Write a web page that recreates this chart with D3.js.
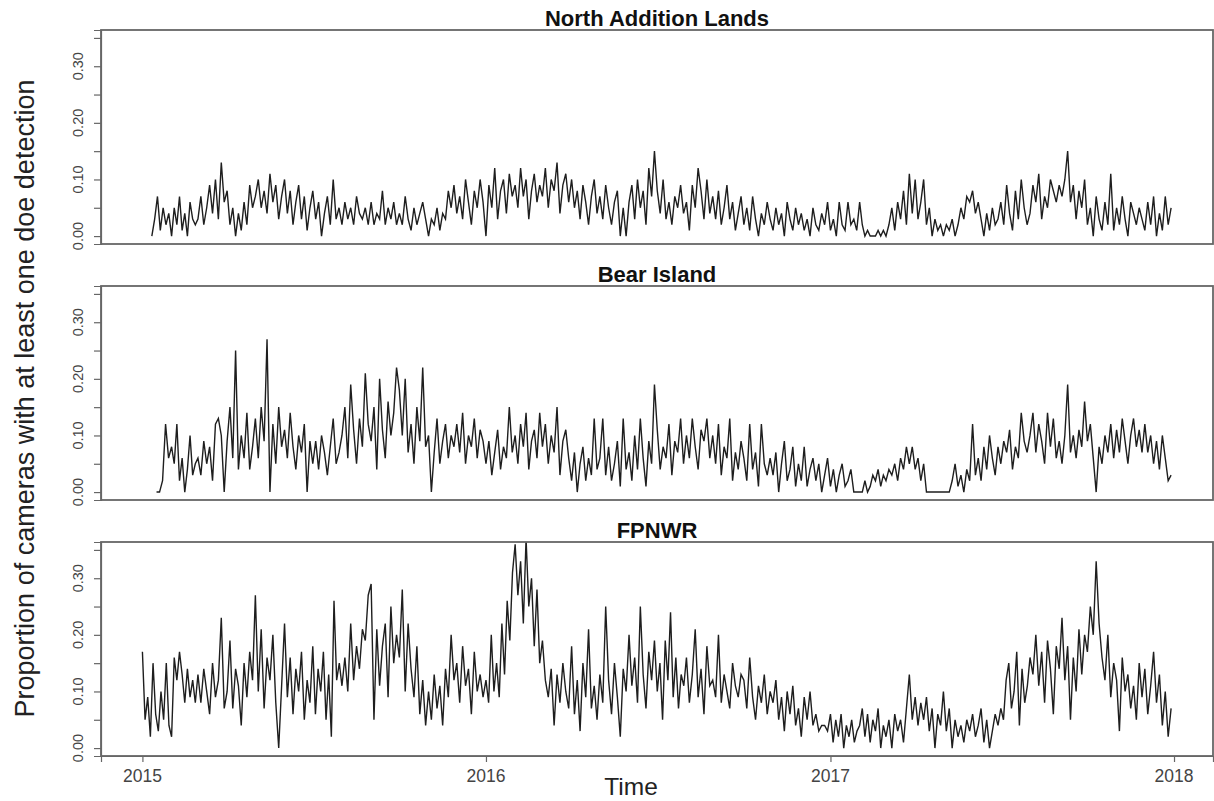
<!DOCTYPE html>
<html>
<head>
<meta charset="utf-8">
<script src="https://cdn.jsdelivr.net/npm/d3@7"></script>
<style>
  html, body { margin: 0; padding: 0; background: #fff; }
  svg { display: block; }
</style>
</head>
<body>
<svg id="chart" width="1214" height="801"></svg>
<script>
// ---------------- DATA (grouped by month Jan 2015 ... Dec 2017) ----------------
const panelTitles = ["North Addition Lands", "Bear Island", "FPNWR"];
const seriesStarts = ["2015-01-11", "2015-01-16", "2015-01-01"];
const xTickLabels = ["2015", "2016", "2017", "2018"];
const yTickValues = [0, 0.05, 0.10, 0.15, 0.20, 0.25, 0.30, 0.35];
const yTickLabels = ["0.00", "0.10", "0.20", "0.30"];
const yLabel = "Proportion of cameras with at least one doe detection";
const xLabel = "Time";

const northAdditionLands = [
  [.00,.03,.07,.01,.05,.02,.04],
  [.00,.05,.02,.07,.01,.04,.00,.06,.03,.02],
  [.03,.07,.02,.05,.09,.04,.10,.03,.13,.06],
  [.08,.02,.05,.00,.04,.01,.06,.02,.09,.05],
  [.07,.10,.05,.08,.04,.11,.06,.09,.03,.07],
  [.10,.04,.08,.02,.06,.09,.03,.07,.01,.05],
  [.08,.03,.06,.00,.04,.07,.02,.10,.03,.05],
  [.02,.06,.03,.05,.02,.07,.04,.03,.05,.02],
  [.06,.02,.04,.03,.08,.02,.05,.03,.06,.02],
  [.04,.02,.07,.03,.01,.05,.02,.04,.06,.03],
  [.00,.03,.02,.05,.01,.04,.03,.08,.05,.09],
  [.04,.07,.03,.10,.06,.02,.08,.05,.10,.06],
  [.00,.09,.05,.12,.03,.08,.10,.04,.11,.07],
  [.09,.05,.12,.07,.10,.03,.08,.11,.06,.09],
  [.07,.12,.05,.10,.08,.13,.04,.09,.11,.06],
  [.10,.05,.08,.03,.09,.06,.02,.07,.10,.04],
  [.07,.03,.09,.05,.02,.06,.08,.00,.05,.00],
  [.06,.09,.03,.10,.05,.08,.02,.12,.07,.15],
  [.08,.04,.10,.03,.06,.02,.07,.05,.09,.04],
  [.06,.01,.09,.05,.12,.08,.03,.10,.04,.07],
  [.03,.08,.02,.05,.09,.03,.06,.01,.04,.07],
  [.02,.05,.01,.07,.03,.00,.04,.02,.06,.03],
  [.01,.05,.02,.04,.00,.06,.03,.01,.05,.02],
  [.04,.01,.03,.00,.05,.02,.01,.04,.02,.06],
  [.01,.03,.00,.06,.02,.01,.06,.02,.03,.01],
  [.06,.02,.00,.01,.00,.00,.00,.01,.00,.01],
  [.00,.02,.05,.01,.06,.03,.08,.02,.11,.04],
  [.10,.03,.06,.10,.02,.05,.00,.03,.01,.02],
  [.00,.02,.01,.03,.00,.02,.05,.03,.07,.06],
  [.08,.04,.06,.03,.00,.04,.01,.05,.02,.03],
  [.06,.02,.09,.04,.01,.08,.03,.10,.05,.02],
  [.04,.09,.06,.11,.03,.07,.05,.10,.08,.06],
  [.09,.07,.10,.15,.06,.09,.03,.08,.05,.10],
  [.02,.05,.00,.07,.03,.01,.06,.02,.11,.01],
  [.05,.02,.07,.03,.00,.06,.04,.02,.05,.03],
  [.01,.06,.02,.07,.00,.04,.01,.07,.02,.05]
];

const bearIsland = [
  [.00,.00,.02,.12,.06],
  [.08,.05,.12,.02,.06,.00,.04,.10,.03,.05],
  [.06,.03,.09,.05,.08,.02,.12,.13,.10,.00],
  [.09,.15,.06,.25,.04,.10,.06,.14,.04,.08],
  [.13,.06,.15,.09,.27,.00,.12,.05,.15,.08],
  [.11,.06,.14,.08,.04,.10,.07,.12,.00,.09],
  [.05,.09,.04,.10,.07,.03,.08,.13,.05,.07],
  [.10,.15,.06,.19,.11,.05,.13,.08,.21,.12],
  [.09,.15,.04,.20,.11,.06,.16,.10,.14,.22],
  [.18,.10,.20,.07,.12,.05,.15,.09,.22,.08],
  [.10,.00,.07,.13,.05,.09,.12,.06,.10,.08],
  [.12,.07,.14,.05,.10,.08,.13,.06,.11,.09],
  [.05,.09,.03,.07,.11,.04,.08,.06,.15,.07],
  [.10,.05,.12,.08,.14,.04,.09,.11,.06,.14],
  [.08,.12,.05,.10,.07,.15,.03,.09,.11,.06],
  [.02,.07,.00,.05,.08,.02,.06,.03,.13,.04],
  [.06,.13,.03,.08,.02,.05,.09,.01,.13,.04],
  [.07,.02,.10,.04,.13,.06,.01,.09,.05,.19],
  [.11,.04,.08,.06,.12,.03,.09,.07,.13,.05],
  [.10,.06,.13,.08,.04,.11,.09,.13,.06,.10],
  [.05,.12,.03,.08,.06,.13,.02,.07,.04,.09],
  [.06,.02,.12,.04,.07,.01,.12,.05,.03,.06],
  [.03,.07,.00,.05,.09,.02,.04,.08,.01,.05],
  [.02,.08,.01,.04,.06,.02,.05,.00,.03,.06],
  [.01,.04,.00,.03,.05,.01,.02,.04,.00,.00],
  [.00,.00,.02,.00,.01,.03,.02,.04,.01,.03],
  [.02,.04,.03,.05,.02,.06,.04,.08,.05,.08],
  [.04,.06,.02,.05,.00,.00,.00,.00,.00,.00],
  [.00,.00,.00,.02,.05,.01,.03,.00,.04,.02],
  [.12,.03,.06,.02,.08,.04,.10,.06,.03,.08],
  [.05,.09,.07,.11,.04,.08,.06,.14,.09,.07],
  [.10,.14,.07,.12,.09,.05,.14,.08,.13,.06],
  [.09,.05,.10,.19,.07,.10,.06,.11,.08,.16],
  [.09,.12,.06,.00,.08,.05,.10,.07,.12,.06],
  [.11,.07,.13,.09,.05,.10,.13,.08,.11,.07],
  [.12,.07,.10,.05,.09,.04,.10,.06,.02,.03]
];

const fpnwr = [
  [.17,.05,.09,.02,.15,.06,.03,.10,.05,.15,.04],
  [.02,.16,.12,.17,.13,.08,.14,.09,.12,.08],
  [.13,.08,.14,.10,.06,.15,.09,.12,.23,.07],
  [.10,.19,.07,.14,.11,.04,.15,.09,.17,.12],
  [.27,.10,.21,.07,.16,.12,.20,.08,.00,.11],
  [.22,.09,.16,.06,.14,.10,.17,.05,.12,.08],
  [.18,.06,.14,.10,.17,.05,.13,.02,.26,.12,.15],
  [.11,.16,.10,.22,.12,.18,.14,.21,.19,.27],
  [.29,.05,.21,.11,.18,.22,.09,.25,.15,.20],
  [.16,.28,.10,.22,.14,.09,.18,.06,.12,.04],
  [.10,.05,.13,.07,.11,.04,.14,.09,.20,.12],
  [.15,.08,.18,.11,.14,.06,.17,.10,.13,.09],
  [.12,.08,.20,.10,.15,.09,.22,.13,.26,.19,.31],
  [.36,.27,.33,.22,.37,.25,.30,.18,.28,.15],
  [.19,.12,.09,.14,.04,.13,.08,.15,.10,.07],
  [.18,.06,.12,.03,.15,.09,.21,.07,.11,.05],
  [.13,.08,.25,.12,.06,.15,.09,.02,.14,.10],
  [.20,.11,.16,.08,.25,.13,.07,.17,.12,.19],
  [.10,.15,.05,.19,.12,.24,.09,.16,.07,.13,.11],
  [.16,.08,.13,.21,.09,.14,.06,.18,.11,.12],
  [.09,.20,.08,.13,.10,.07,.15,.11,.09,.13],
  [.12,.07,.16,.09,.05,.11,.08,.13,.06,.10],
  [.08,.12,.05,.09,.03,.10,.06,.11,.04,.07],
  [.02,.09,.05,.10,.04,.06,.03,.04,.04,.03],
  [.06,.01,.05,.02,.06,.00,.04,.02,.05,.01,.03],
  [.04,.07,.02,.06,.01,.05,.03,.07,.00,.04],
  [.02,.05,.00,.06,.03,.05,.01,.07,.13,.05],
  [.09,.04,.08,.05,.09,.03,.07,.00,.06,.04],
  [.10,.03,.07,.00,.05,.02,.04,.01,.05,.03],
  [.06,.02,.04,.07,.01,.05,.00,.03,.06,.04],
  [.07,.05,.12,.15,.07,.10,.17,.04,.14,.08,.11],
  [.16,.13,.20,.11,.17,.08,.19,.14,.06,.18],
  [.14,.23,.12,.18,.05,.16,.10,.21,.13,.20],
  [.17,.25,.20,.33,.22,.16,.12,.20,.09,.15],
  [.12,.03,.16,.10,.13,.07,.11,.05,.15,.09],
  [.14,.06,.11,.17,.08,.13,.04,.10,.02,.07]
];

const allSeries = [northAdditionLands, bearIsland, fpnwr];

// ---------------- LAYOUT ----------------
const W = 1214, H = 801;
const plotLeft = 101, plotRight = 1213;
const panelTops = [30, 286, 542];
const panelH = 214;
const font = "'Liberation Sans', Arial, Helvetica, sans-serif";

const svg = d3.select("#chart");
svg.append("rect").attr("width", W).attr("height", H).attr("fill", "#fff");

const parse = d3.timeParse("%Y-%m-%d");
const x = d3.scaleTime()
  .domain([new Date(2014, 10, 18), new Date(2018, 1, 11, 10)])
  .range([plotLeft, plotRight]);

// flatten monthly groups into dated points
function toPoints(monthly, startStr) {
  const start = parse(startStr);
  const pts = [];
  monthly.forEach((vals, m) => {
    let a = new Date(2015, m, 1);
    const b = new Date(2015, m + 1, 1);
    if (start > a && start < b) a = start;
    vals.forEach((v, j) => {
      pts.push({ date: new Date(+a + (j / vals.length) * (b - a)), value: v });
    });
  });
  return pts;
}

const defs = svg.append("defs");

allSeries.forEach((monthly, i) => {
  const top = panelTops[i];
  const y = d3.scaleLinear().domain([-0.014, 0.364]).range([top + panelH, top]);
  const g = svg.append("g");

  defs.append("clipPath").attr("id", "clip" + i)
    .append("rect").attr("x", plotLeft).attr("y", top)
    .attr("width", plotRight - plotLeft).attr("height", panelH);

  const pts = toPoints(monthly, seriesStarts[i]);
  const line = d3.line().x(d => x(d.date)).y(d => y(d.value));
  g.append("path")
    .datum(pts)
    .attr("clip-path", `url(#clip${i})`)
    .attr("fill", "none")
    .attr("stroke", "#1e1e1e")
    .attr("stroke-width", 1.4)
    .attr("stroke-linejoin", "miter")
    .attr("d", line);

  // box
  g.append("rect")
    .attr("x", plotLeft).attr("y", top)
    .attr("width", plotRight - plotLeft).attr("height", panelH)
    .attr("fill", "none").attr("stroke", "#666").attr("stroke-width", 1.8);

  // y axis
  const yAxis = d3.axisLeft(y).tickValues(yTickValues).tickSize(7).tickFormat("");
  const ya = g.append("g").attr("transform", `translate(${plotLeft},0)`).call(yAxis);
  ya.select(".domain").attr("stroke", "#666").attr("stroke-width", 1.2);
  ya.selectAll(".tick line").attr("stroke", "#666").attr("stroke-width", 1.2);

  yTickLabels.forEach(lbl => {
    const v = +lbl;
    g.append("text")
      .attr("transform", `translate(83,${y(v)}) rotate(-90)`)
      .attr("text-anchor", "middle")
      .attr("font-family", font)
      .attr("font-size", 14.5)
      .attr("fill", "#444")
      .text(lbl);
  });

  // title
  svg.append("text")
    .attr("x", (plotLeft + plotRight) / 2)
    .attr("y", top - 4.5)
    .attr("text-anchor", "middle")
    .attr("font-family", font)
    .attr("font-weight", "bold")
    .attr("font-size", 22)
    .attr("fill", "#111")
    .text(panelTitles[i]);

  // x axis on bottom panel only
  if (i === allSeries.length - 1) {
    const tickDates = xTickLabels.map(s => new Date(+s, 0, 1));
    const xAxis = d3.axisBottom(x).tickValues(tickDates).tickSize(6).tickFormat("");
    const xa = g.append("g").attr("transform", `translate(0,${top + panelH})`).call(xAxis);
    xa.select(".domain").attr("stroke", "#666").attr("stroke-width", 1.2);
    xa.selectAll(".tick line").attr("stroke", "#666").attr("stroke-width", 1.2);
    xTickLabels.forEach((lbl, k) => {
      g.append("text")
        .attr("x", x(tickDates[k]))
        .attr("y", 782)
        .attr("text-anchor", "middle")
        .attr("font-family", font)
        .attr("font-size", 17.5)
        .attr("fill", "#444")
        .text(lbl);
    });
  }
});

// axis titles
svg.append("text")
  .attr("transform", "translate(34,398.5) rotate(-90)")
  .attr("text-anchor", "middle")
  .attr("font-family", font)
  .attr("font-size", 27)
  .attr("fill", "#222")
  .text(yLabel);

svg.append("text")
  .attr("x", 631)
  .attr("y", 795)
  .attr("text-anchor", "middle")
  .attr("font-family", font)
  .attr("font-size", 24.5)
  .attr("fill", "#222")
  .text(xLabel);
</script>
</body>
</html>
